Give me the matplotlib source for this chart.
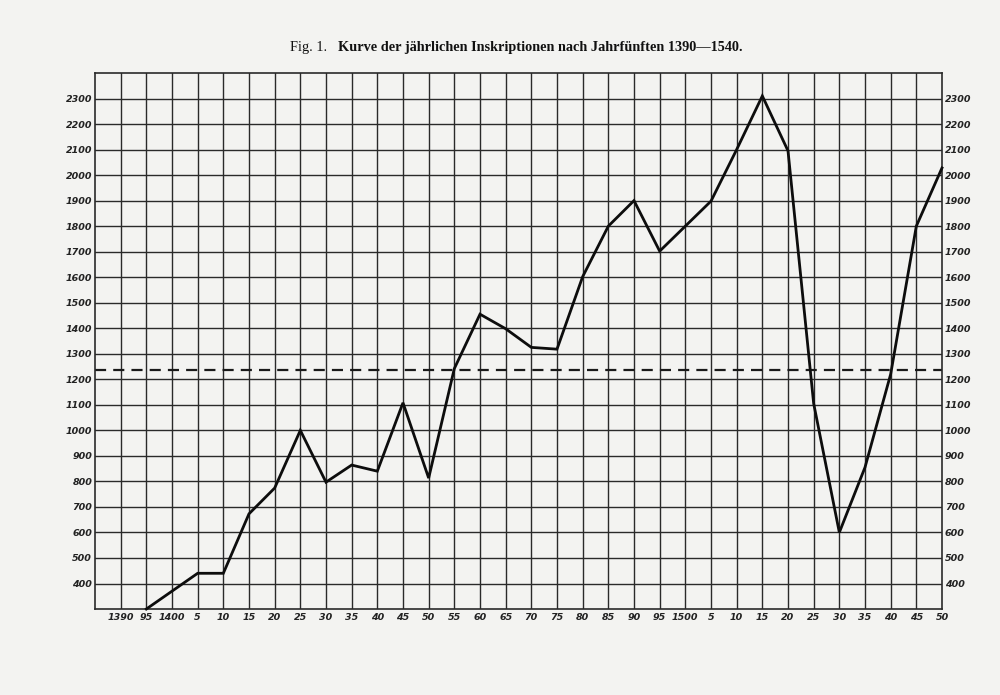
import matplotlib
matplotlib.use('Agg')
import matplotlib.pyplot as plt

# Jahrfünfte and yearly inscriptions
years = [1395, 1400, 1405, 1410, 1415, 1420, 1425, 1430, 1435, 1440,
         1445, 1450, 1455, 1460, 1465, 1470, 1475, 1480, 1485, 1490,
         1495, 1500, 1505, 1510, 1515, 1520, 1525, 1530, 1535, 1540,
         1545, 1550]
inscr = [300, 370, 440, 440, 673, 774, 1000, 797, 864, 840,
         1108, 813, 1242, 1455, 1398, 1325, 1318, 1602, 1800, 1900,
         1702, 1800, 1898, 2100, 2310, 2095, 1105, 600, 855, 1220,
         1800, 2028]
mean_level = 1235

xtick_pos = list(range(1390, 1551, 5))
xtick_lab = ['1390', '95', '1400', '5', '10', '15', '20', '25', '30', '35',
             '40', '45', '50', '55', '60', '65', '70', '75', '80', '85',
             '90', '95', '1500', '5', '10', '15', '20', '25', '30', '35',
             '40', '45', '50']
ytick_pos = list(range(400, 2301, 100))

bg = '#f3f3f1'
ink = '#1a1a1a'

fig = plt.figure(figsize=(10, 6.95), dpi=100, facecolor=bg)
ax = fig.add_axes([0.095, 0.1237, 0.847, 0.7713])
ax.set_facecolor(bg)

ax.set_xlim(1385, 1550)
ax.set_ylim(300, 2400)

# grid
for x in range(1390, 1550, 5):
    ax.axvline(x, color='#2a2a2a', lw=1.0, zorder=1)
for y in range(400, 2400, 100):
    ax.axhline(y, color='#2a2a2a', lw=1.0, zorder=1)

ax.axhline(mean_level, color=ink, lw=1.6, ls=(0, (5, 3.2)), zorder=2)
ax.plot(years, inscr, color='#0d0d0d', lw=2.0, solid_joinstyle='miter', zorder=3,
        clip_on=False)

for s in ax.spines.values():
    s.set_color('#2a2a2a')
    s.set_linewidth(1.2)

lab_font = dict(family='DejaVu Sans', style='italic', weight='bold', size=6.8, color='#222222')

ax.set_xticks(xtick_pos)
ax.set_xticklabels(xtick_lab, **lab_font)
ax.tick_params(axis='x', length=0, pad=3)
ax.set_yticks(ytick_pos)
ax.set_yticklabels([str(v) for v in ytick_pos], **lab_font)
ax.tick_params(axis='y', length=0, pad=2, labelleft=True, labelright=True)

fig.text(0.29, 0.931, 'Fig. 1.', family='Liberation Serif', size=10.3, color='#111111',
         ha='left', va='center')
fig.text(0.338, 0.931, 'Kurve der jährlichen Inskriptionen nach Jahrfünften 1390—1540.',
         family='Liberation Serif', weight='bold', size=10.3, color='#111111',
         ha='left', va='center')

fig.savefig('out.png', dpi=100, facecolor=bg)
